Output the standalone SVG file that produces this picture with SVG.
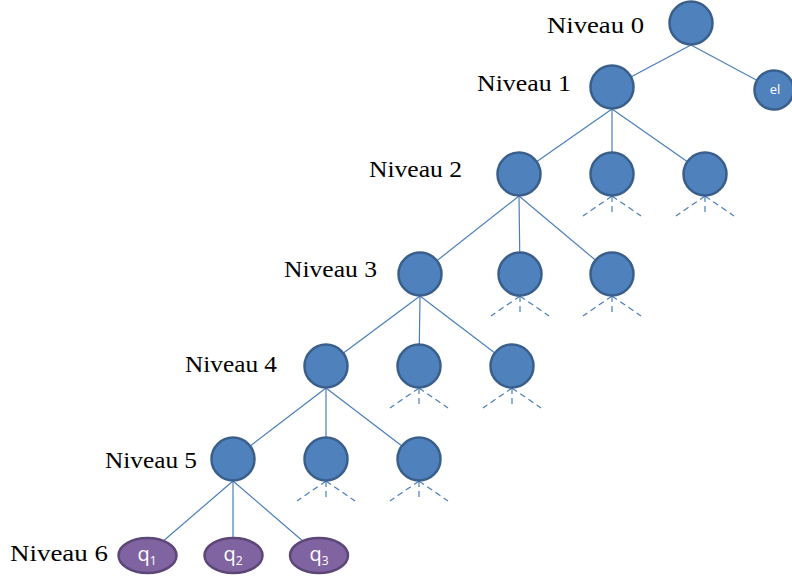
<svg xmlns="http://www.w3.org/2000/svg" width="792" height="577" viewBox="0 0 792 577">
<style>
.lvl{font-family:"Liberation Serif","DejaVu Serif",serif;font-size:24px;fill:#000;text-anchor:end}
.n{fill:#4F81BD;stroke:#3A5F8B;stroke-width:2.5}
.q{fill:#8064A2;stroke:#5C4776;stroke-width:2.5}
.c line{stroke:#4A7EBB;stroke-width:1.2}
.d line{stroke:#4A7EBB;stroke-width:1.2;stroke-dasharray:6 4}
.qt{font-family:"Open Sans","Liberation Sans",sans-serif;font-size:20px;fill:#fff;text-anchor:middle}
.el{font-family:"Open Sans","Liberation Sans",sans-serif;font-size:13px;fill:#fff;text-anchor:middle}
</style>
<g id="labels">
<text class="lvl" x="644" y="33" textLength="97" lengthAdjust="spacingAndGlyphs">Niveau 0</text>
<text class="lvl" x="571" y="91" textLength="94" lengthAdjust="spacingAndGlyphs">Niveau 1</text>
<text class="lvl" x="462" y="177" textLength="93" lengthAdjust="spacingAndGlyphs">Niveau 2</text>
<text class="lvl" x="377" y="277" textLength="93" lengthAdjust="spacingAndGlyphs">Niveau 3</text>
<text class="lvl" x="277" y="372" textLength="92" lengthAdjust="spacingAndGlyphs">Niveau 4</text>
<text class="lvl" x="197" y="468" textLength="92" lengthAdjust="spacingAndGlyphs">Niveau 5</text>
<text class="lvl" x="108" y="561" textLength="98" lengthAdjust="spacingAndGlyphs">Niveau 6</text>
</g>
<g id="connectors">
<g class="c">
<line x1="691" y1="45" x2="612" y2="87"/>
<line x1="691" y1="45" x2="775" y2="90"/>
<line x1="612" y1="109" x2="519" y2="174"/>
<line x1="612" y1="109" x2="612" y2="174"/>
<line x1="612" y1="109" x2="705" y2="174"/>
<line x1="519" y1="196" x2="420" y2="274"/>
<line x1="519" y1="196" x2="520" y2="274"/>
<line x1="519" y1="196" x2="612" y2="274"/>
<line x1="420" y1="296" x2="326" y2="366"/>
<line x1="420" y1="296" x2="419" y2="366"/>
<line x1="420" y1="296" x2="512" y2="366"/>
<line x1="326" y1="388" x2="233" y2="459"/>
<line x1="326" y1="388" x2="326" y2="459"/>
<line x1="326" y1="388" x2="419" y2="459"/>
<line x1="233" y1="481" x2="147" y2="555"/>
<line x1="233" y1="481" x2="233" y2="555"/>
<line x1="233" y1="481" x2="319" y2="555"/>
</g>
<g class="d">
<line x1="612" y1="196" x2="583" y2="216"/><line x1="612" y1="196" x2="612" y2="216"/><line x1="612" y1="196" x2="641" y2="216"/>
<line x1="705" y1="196" x2="676" y2="216"/><line x1="705" y1="196" x2="705" y2="216"/><line x1="705" y1="196" x2="734" y2="216"/>
<line x1="520" y1="296" x2="491" y2="316"/><line x1="520" y1="296" x2="520" y2="316"/><line x1="520" y1="296" x2="549" y2="316"/>
<line x1="612" y1="296" x2="583" y2="316"/><line x1="612" y1="296" x2="612" y2="316"/><line x1="612" y1="296" x2="641" y2="316"/>
<line x1="419" y1="388" x2="390" y2="408"/><line x1="419" y1="388" x2="419" y2="408"/><line x1="419" y1="388" x2="448" y2="408"/>
<line x1="512" y1="388" x2="483" y2="408"/><line x1="512" y1="388" x2="512" y2="408"/><line x1="512" y1="388" x2="541" y2="408"/>
<line x1="326" y1="481" x2="297" y2="501"/><line x1="326" y1="481" x2="326" y2="501"/><line x1="326" y1="481" x2="355" y2="501"/>
<line x1="419" y1="481" x2="390" y2="501"/><line x1="419" y1="481" x2="419" y2="501"/><line x1="419" y1="481" x2="448" y2="501"/>
</g>
</g>
<g id="n0"><circle class="n" cx="691" cy="23" r="21.5"/></g>
<g id="n1"><circle class="n" cx="612" cy="87" r="21.5"/></g>
<g id="el"><circle class="n" cx="774" cy="90" r="19.5"/><text class="el" x="775" y="94">el</text></g>
<g id="n2a"><circle class="n" cx="519" cy="174" r="21.5"/></g>
<g id="n2b"><circle class="n" cx="612" cy="174" r="21.5"/></g>
<g id="n2c"><circle class="n" cx="705" cy="174" r="21.5"/></g>
<g id="n3a"><circle class="n" cx="420" cy="274" r="21.5"/></g>
<g id="n3b"><circle class="n" cx="520" cy="274" r="21.5"/></g>
<g id="n3c"><circle class="n" cx="612" cy="274" r="21.5"/></g>
<g id="n4a"><circle class="n" cx="326" cy="366" r="21.5"/></g>
<g id="n4b"><circle class="n" cx="419" cy="366" r="21.5"/></g>
<g id="n4c"><circle class="n" cx="512" cy="366" r="21.5"/></g>
<g id="n5a"><circle class="n" cx="233" cy="459" r="21.5"/></g>
<g id="n5b"><circle class="n" cx="326" cy="459" r="21.5"/></g>
<g id="n5c"><circle class="n" cx="419" cy="459" r="21.5"/></g>
<g id="q1"><ellipse class="q" cx="147.5" cy="555.5" rx="29" ry="17.5"/><text class="qt" x="147" y="561">q<tspan font-size="12" dy="4">1</tspan></text></g>
<g id="q2"><ellipse class="q" cx="233.5" cy="555.5" rx="29" ry="17.5"/><text class="qt" x="233" y="561">q<tspan font-size="12" dy="4">2</tspan></text></g>
<g id="q3"><ellipse class="q" cx="319" cy="555.5" rx="29" ry="17.5"/><text class="qt" x="319" y="561">q<tspan font-size="12" dy="4">3</tspan></text></g>
</svg>
